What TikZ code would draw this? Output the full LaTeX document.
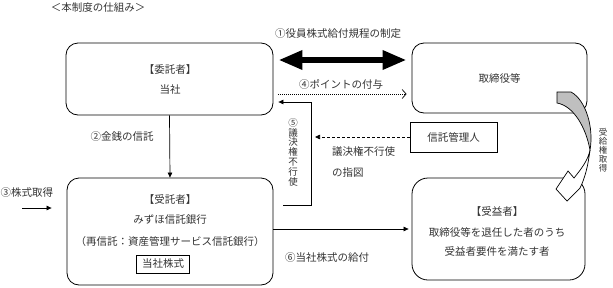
\documentclass[tikz,border=0pt]{standalone}
\usepackage{fontspec}
\setmainfont{Noto Sans CJK JP}
\usetikzlibrary{arrows.meta}

\begin{document}
\begin{tikzpicture}[x=1pt, y=-1pt, font=\fontsize{10.5}{12}\selectfont,
    box/.style={draw, line width=0.8pt, rounded corners=12pt},
    plainbox/.style={draw, line width=0.8pt, text=black!80, inner sep=0pt},
    txt/.style={text=black!80, inner sep=0pt},
    vtext/.style={txt, align=center, font=\fontsize{9.5}{9.8}\selectfont},
    tip/.style={line width=0.7pt, -{Triangle[length=5pt,width=4.5pt]}}]
    \useasboundingbox (0,0) rectangle (613,287);
    \node[txt] (title) at (98,8) {＜本制度の仕組み＞};

    \node[box, minimum width=207pt, minimum height=72pt] (itaku) at (169.5,79) {};
    \node[txt] (itakuhead) at (170,70) {【委託者】};
    \node[txt] (itakuname) at (170,90) {当社};
    \node[box, txt, minimum width=175pt, minimum height=70pt] (torishimari) at (499.5,78) {取締役等};
    \node[plainbox, minimum width=87pt, minimum height=30pt] (kanri) at (453.5,137) {信託管理人};

    \node[box, minimum width=206pt, minimum height=107pt] (jutaku) at (170,231.5) {};
    \node[txt] (jutakuhead) at (170,200) {【受託者】};
    \node[txt] (jutakuname) at (170,220) {みずほ信託銀行};
    \node[txt] (saishintaku) at (170,242) {（再信託：資産管理サービス信託銀行）};
    \node[plainbox, minimum width=53pt, minimum height=18pt] (kabu) at (163,264) {当社株式};

    \node[box, rounded corners=16pt, minimum width=173pt, minimum height=102pt] (jueki) at (498.5,229) {};
    \node[txt] (juekihead) at (497,212) {【受益者】};
    \node[txt] (juekiline1) at (497,232) {取締役等を退任した者のうち};
    \node[txt] (juekiline2) at (497,251) {受益者要件を満たす者};

    \draw[line width=6pt, {Triangle[length=24pt,width=18pt]}-{Triangle[length=24pt,width=18pt]}]
        ([xshift=5pt,yshift=19pt]itaku.east) -- ([xshift=-5pt,yshift=18pt]torishimari.west);
    \node[txt] (lbl1) at (338,34) {①役員株式給付規程の制定};

    \draw[line width=0.7pt, dash pattern=on 1pt off 1pt, -{Straight Barb[length=4pt,width=9pt]}]
        ([xshift=5pt,yshift=-15pt]itaku.east) -- ([xshift=-5pt,yshift=-16pt]torishimari.west);
    \node[txt] (lbl4) at (341,84) {④ポイントの付与};

    \coordinate (bend5) at (311,102);
    \draw[tip] ([xshift=10pt,yshift=26.5pt]jutaku.east) -| (bend5) -- ([xshift=5pt,yshift=-23pt]itaku.east);
    \node[vtext] (lbl5) at (293,152) {⑤\\議\\決\\権\\不\\行\\使};

    \coordinate (end7) at (315,137);
    \draw[tip, dash pattern=on 3pt off 2pt] (kanri.west) -- (end7);
    \node[txt, anchor=west] (lbl7a) at (332,152) {議決権不行使};
    \node[txt, anchor=west] (lbl7b) at (332,173) {の指図};

    \draw[tip] (itaku.south) -- (jutaku.north);
    \node[txt] (lbl2) at (122,137) {②金銭の信託};

    \coordinate (start3) at (22,208);
    \draw[tip] (start3) -- ([xshift=-15pt,yshift=23.5pt]jutaku.west);
    \node[txt] (lbl3) at (27,193) {③株式取得};

    \draw[tip] ([yshift=2.5pt]jutaku.east) -- ([xshift=-3pt]jueki.west);
    \node[txt] (lbl6) at (327,258) {⑥当社株式の給付};

    \draw[line width=0.7pt, fill=black!25] (557,92) -- (571,92) .. controls (586,100) and (594,128) .. (590,150)
        .. controls (586,128) and (574,106) .. (557,103) -- cycle;
    \draw[line width=0.7pt, fill=white] (590,150) .. controls (588,166) and (585,178) .. (580,188)
        -- (567,201) -- (556,189) -- (568,171) -- (574,178) .. controls (582,168) and (588,160) .. (590,150);
    \node[txt, align=center, font=\fontsize{8.5}{9}\selectfont] (lbl8) at (603,150) {受\\給\\権\\取\\得};
\end{tikzpicture}
\end{document}
